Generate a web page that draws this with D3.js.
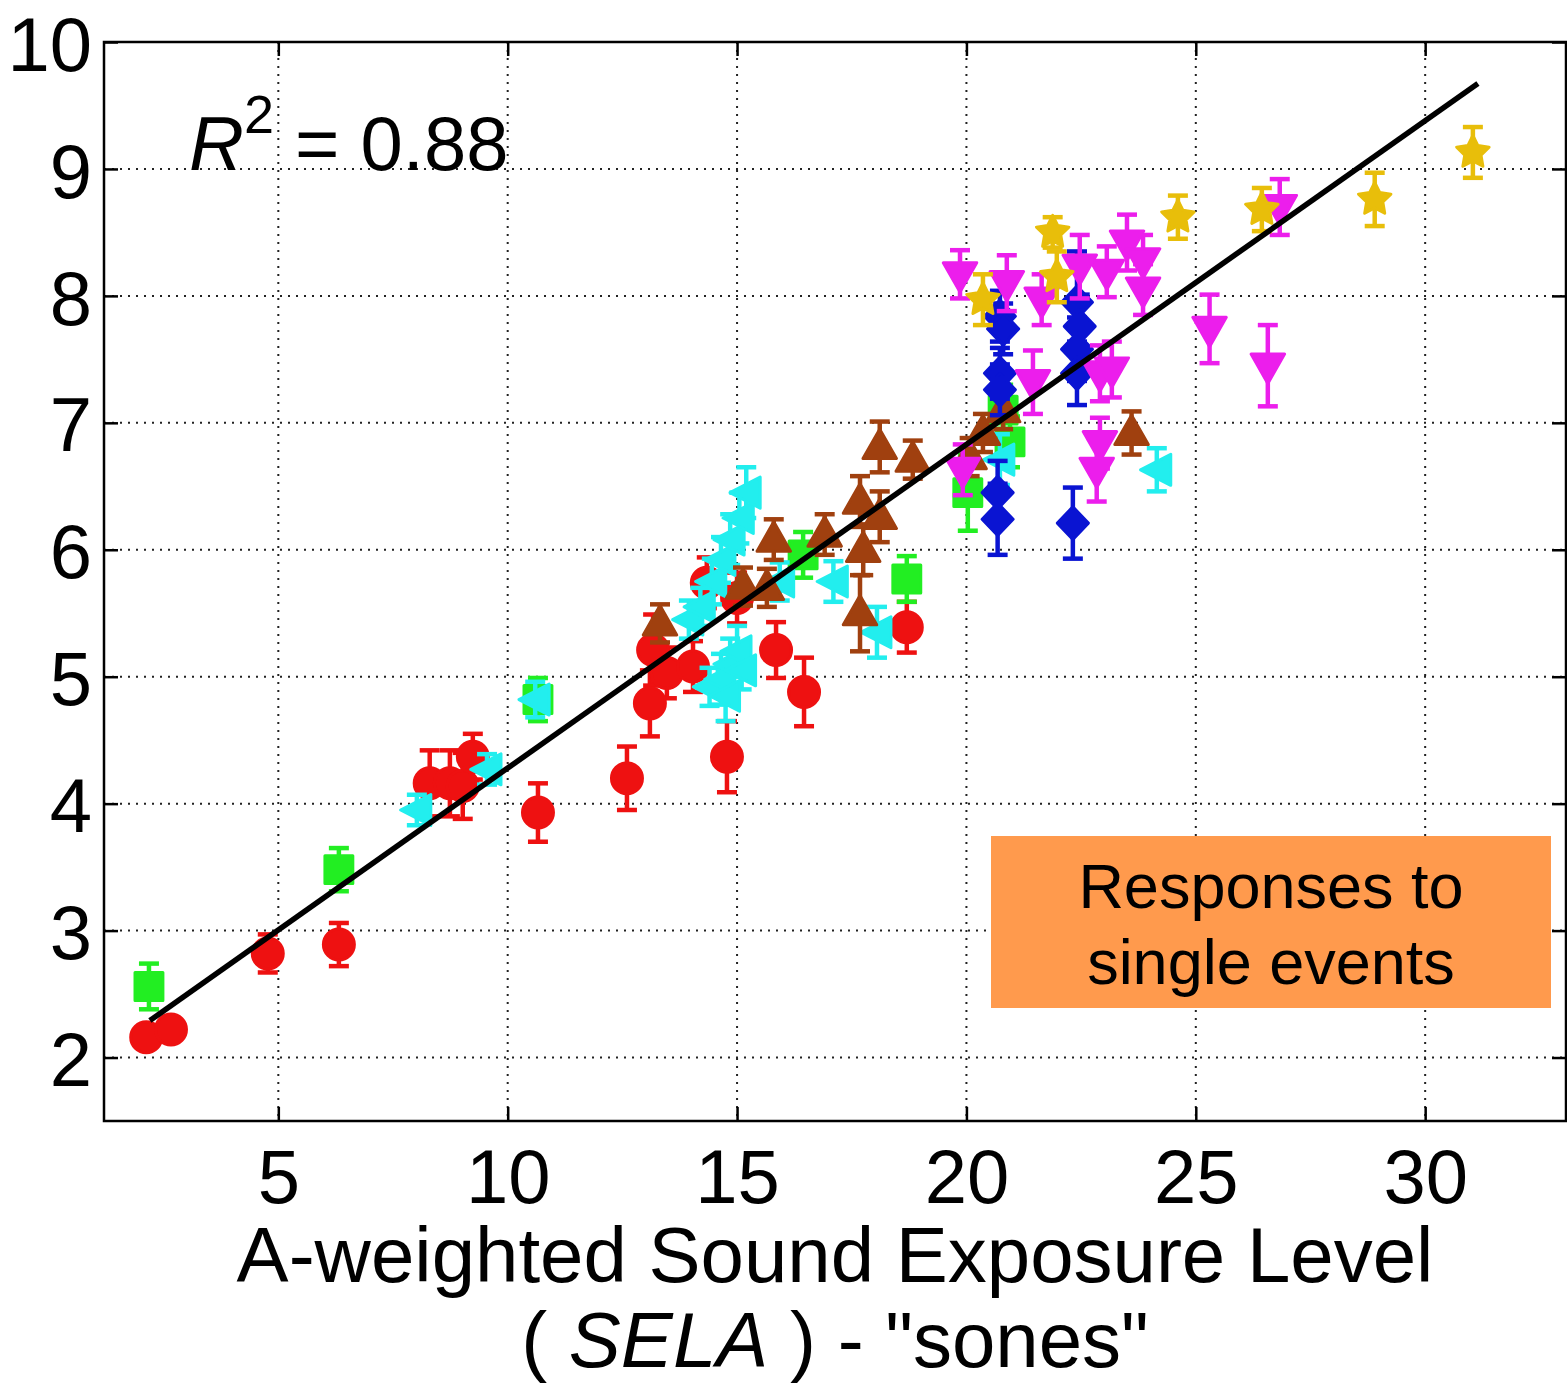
<!DOCTYPE html>
<html>
<head>
<meta charset="utf-8">
<script src="https://cdn.jsdelivr.net/npm/d3@7"></script>
<style>
  body { margin: 0; background: #fff; }
  text { font-family: "Liberation Sans", Arial, sans-serif; fill: #000; }
</style>
</head>
<body>
<div id="chart"></div>
<script>
// Tick values
const xTicks = [5, 10, 15, 20, 25, 30];
const yTicks = [2, 3, 4, 5, 6, 7, 8, 9, 10];

// Each point is [SELA sones, mean response, error half-length]
const redPts = [
  [2.12, 2.16, 0.08], [2.66, 2.22, 0.08], [4.77, 2.82, 0.15], [6.32, 2.89, 0.17],
  [8.3, 4.16, 0.26], [8.74, 4.16, 0.26], [9.02, 4.14, 0.26], [9.24, 4.37, 0.18],
  [10.66, 3.93, 0.23], [12.6, 4.2, 0.25], [13.1, 4.79, 0.26], [13.17, 5.21, 0.28],
  [13.47, 5.03, 0.2], [14.04, 5.08, 0.2], [14.34, 5.74, 0.2], [14.78, 4.37, 0.28],
  [15.0, 5.62, 0.2], [15.85, 5.21, 0.22], [16.46, 4.88, 0.27], [18.7, 5.39, 0.2]
];
const greenPts = [
  [2.18, 2.56, 0.18], [6.32, 3.48, 0.17], [10.66, 4.82, 0.17], [16.44, 5.96, 0.18],
  [18.7, 5.77, 0.18], [20.03, 6.45, 0.3], [20.8, 7.1, 0.2], [20.95, 6.85, 0.2]
];
const cyanPts = [
  [8.02, 3.95, 0.12], [9.55, 4.27, 0.12], [10.6, 4.82, 0.14], [13.95, 5.45, 0.15],
  [14.2, 5.55, 0.15], [14.45, 5.75, 0.18], [14.65, 5.92, 0.18], [14.85, 6.08, 0.2],
  [15.05, 6.25, 0.2], [15.2, 6.45, 0.2], [14.4, 4.92, 0.15], [14.65, 4.98, 0.2],
  [14.85, 5.1, 0.2], [15.0, 5.2, 0.2], [14.75, 4.85, 0.2], [15.1, 5.05, 0.15],
  [15.93, 5.75, 0.15], [17.1, 5.75, 0.16], [18.05, 5.35, 0.2], [20.73, 6.71, 0.2],
  [24.15, 6.63, 0.17]
];
const brownPts = [
  [13.32, 5.42, 0.15], [15.13, 5.71, 0.15], [15.65, 5.7, 0.15], [15.8, 6.08, 0.16],
  [16.91, 6.12, 0.16], [17.68, 5.5, 0.3], [17.75, 6.0, 0.2], [17.68, 6.38, 0.2],
  [18.11, 6.26, 0.2], [18.11, 6.81, 0.2], [18.83, 6.71, 0.15], [20.07, 6.73, 0.15],
  [20.36, 6.92, 0.15], [20.8, 7.1, 0.15], [23.6, 6.92, 0.17]
];
const bluePts = [
  [20.73, 7.84, 0.2], [20.8, 7.74, 0.2], [20.73, 7.39, 0.2], [20.73, 7.26, 0.2],
  [20.68, 6.45, 0.25], [20.68, 6.24, 0.28], [22.41, 7.95, 0.4], [22.47, 7.76, 0.25],
  [22.41, 7.58, 0.25], [22.41, 7.39, 0.25], [22.32, 6.21, 0.28]
];
const magentaPts = [
  [19.86, 8.17, 0.19], [20.88, 8.1, 0.22], [21.64, 7.97, 0.2], [22.47, 8.23, 0.25],
  [23.06, 8.19, 0.2], [23.5, 8.42, 0.22], [23.85, 8.28, 0.2], [23.85, 8.05, 0.2],
  [21.45, 7.32, 0.25], [22.91, 7.39, 0.22], [23.17, 7.42, 0.22], [22.91, 6.84, 0.2],
  [22.84, 6.63, 0.25], [19.92, 6.63, 0.2], [25.3, 7.74, 0.27], [26.57, 7.45, 0.32],
  [26.83, 8.7, 0.22]
];
const goldPts = [
  [20.36, 7.97, 0.2], [21.88, 8.5, 0.12], [21.97, 8.15, 0.2], [24.61, 8.62, 0.17],
  [26.44, 8.68, 0.17], [28.9, 8.76, 0.21], [31.04, 9.13, 0.2]
];

// Linear fit
const fitX = [2.2, 31.15];
const fitSlope = 0.255;
const fitIntercept = 1.73;
const rSquared = '0.88';

const series = [
  { pts: redPts, color: '#ee1111', shape: 'circle' },
  { pts: greenPts, color: '#22ee22', shape: 'square' },
  { pts: cyanPts, color: '#22eeee', shape: 'left' },
  { pts: brownPts, color: '#a0400f', shape: 'up' },
  { pts: bluePts, color: '#0a14d2', shape: 'diamond' },
  { pts: magentaPts, color: '#ec1eec', shape: 'down' },
  { pts: goldPts, color: '#e8be0a', shape: 'star' }
];

const W = 1567, H = 1386;
const plotL = 104, plotR = 1566, plotT = 42, plotB = 1121;

const svg = d3.select('#chart')
  .append('svg')
  .attr('width', W)
  .attr('height', H);

const x = d3.scaleLinear().domain([1.2, 33.07]).range([plotL, plotR]);
const y = d3.scaleLinear().domain([1.5, 10]).range([plotB, plotT]);

// dotted grid
svg.append('g')
  .selectAll('line')
  .data(xTicks)
  .join('line')
  .attr('x1', d => x(d)).attr('x2', d => x(d))
  .attr('y1', plotT).attr('y2', plotB)
  .attr('stroke', '#222').attr('stroke-width', 2)
  .attr('stroke-dasharray', '2,6');
svg.append('g')
  .selectAll('line')
  .data(yTicks)
  .join('line')
  .attr('x1', plotL).attr('x2', plotR)
  .attr('y1', d => y(d)).attr('y2', d => y(d))
  .attr('stroke', '#222').attr('stroke-width', 2)
  .attr('stroke-dasharray', '2,6');

// axes (ticks point inward)
const fontSize = 76;
const xAxis = svg.append('g')
  .attr('transform', `translate(0,${plotB})`)
  .call(d3.axisBottom(x).tickValues(xTicks).tickSize(-14).tickPadding(28));
const yAxis = svg.append('g')
  .attr('transform', `translate(${plotL},0)`)
  .call(d3.axisLeft(y).tickValues(yTicks).tickSize(-14).tickPadding(12));
svg.append('g')
  .attr('transform', `translate(0,${plotT})`)
  .call(d3.axisTop(x).tickValues(xTicks).tickSize(-14).tickFormat(''));
svg.append('g')
  .attr('transform', `translate(${plotR},0)`)
  .call(d3.axisRight(y).tickValues(yTicks).tickSize(-14).tickFormat(''));

svg.selectAll('.domain').remove();
svg.selectAll('.tick line').attr('stroke', '#000').attr('stroke-width', 2.5);
[xAxis, yAxis].forEach(a => a.selectAll('text')
  .style('font-family', '"Liberation Sans", Arial, sans-serif')
  .style('font-size', fontSize + 'px')
  .attr('fill', '#000'));
yAxis.selectAll('text').attr('dy', '0.37em');

// frame
svg.append('rect')
  .attr('x', plotL).attr('y', plotT)
  .attr('width', plotR - plotL).attr('height', plotB - plotT)
  .attr('fill', 'none').attr('stroke', '#000').attr('stroke-width', 2.5);

// marker shapes
function shapePath(shape, r) {
  const p = d3.path();
  if (shape === 'circle') {
    p.arc(0, 0, r, 0, 2 * Math.PI);
  } else if (shape === 'square') {
    p.rect(-r * 0.9, -r * 0.9, r * 1.8, r * 1.8);
  } else if (shape === 'left') {
    p.moveTo(-r * 1.05, 0); p.lineTo(r * 0.9, -r); p.lineTo(r * 0.9, r); p.closePath();
  } else if (shape === 'up') {
    p.moveTo(0, -r * 1.15); p.lineTo(r * 1.08, r * 0.75); p.lineTo(-r * 1.08, r * 0.75); p.closePath();
  } else if (shape === 'down') {
    p.moveTo(0, r * 1.15); p.lineTo(r * 1.08, -r * 0.75); p.lineTo(-r * 1.08, -r * 0.75); p.closePath();
  } else if (shape === 'diamond') {
    p.moveTo(0, -r * 1.05); p.lineTo(r, 0); p.lineTo(0, r * 1.05); p.lineTo(-r, 0); p.closePath();
  } else if (shape === 'star') {
    for (let i = 0; i < 10; i++) {
      const a = -Math.PI / 2 + i * Math.PI / 5;
      const rr = i % 2 === 0 ? r * 1.1 : r * 0.55;
      if (i === 0) p.moveTo(rr * Math.cos(a), rr * Math.sin(a));
      else p.lineTo(rr * Math.cos(a), rr * Math.sin(a));
    }
    p.closePath();
  }
  return p.toString();
}

const capW = 10;
series.forEach(s => {
  const g = svg.append('g');
  // error bars
  const eb = g.selectAll('g.eb').data(s.pts).join('g').attr('class', 'eb');
  eb.append('line')
    .attr('x1', d => x(d[0])).attr('x2', d => x(d[0]))
    .attr('y1', d => y(d[1] - d[2])).attr('y2', d => y(d[1] + d[2]))
    .attr('stroke', s.color).attr('stroke-width', 4.5);
  eb.append('line')
    .attr('x1', d => x(d[0]) - capW).attr('x2', d => x(d[0]) + capW)
    .attr('y1', d => y(d[1] + d[2])).attr('y2', d => y(d[1] + d[2]))
    .attr('stroke', s.color).attr('stroke-width', 4.5);
  eb.append('line')
    .attr('x1', d => x(d[0]) - capW).attr('x2', d => x(d[0]) + capW)
    .attr('y1', d => y(d[1] - d[2])).attr('y2', d => y(d[1] - d[2]))
    .attr('stroke', s.color).attr('stroke-width', 4.5);
  // markers
  g.selectAll('path.m').data(s.pts).join('path')
    .attr('class', 'm')
    .attr('transform', d => `translate(${x(d[0])},${y(d[1])})`)
    .attr('d', shapePath(s.shape, 15.5))
    .attr('fill', s.color)
    .attr('stroke', s.color).attr('stroke-width', 3)
    .attr('stroke-linejoin', 'round');
});

// regression line
svg.append('line')
  .attr('x1', x(fitX[0])).attr('y1', y(fitIntercept + fitSlope * fitX[0]))
  .attr('x2', x(fitX[1])).attr('y2', y(fitIntercept + fitSlope * fitX[1]))
  .attr('stroke', '#000').attr('stroke-width', 5.5);

// R^2 label
const r2 = svg.append('text')
  .attr('x', 189).attr('y', 170)
  .style('font-size', '76px');
r2.append('tspan').attr('font-style', 'italic').text('R');
r2.append('tspan').attr('dy', -37).style('font-size', '54px').text('2');
r2.append('tspan').attr('dy', 37).text(' = ' + rSquared);

// annotation box
svg.append('rect')
  .attr('x', 991).attr('y', 836)
  .attr('width', 560).attr('height', 172)
  .attr('fill', '#ff9a4d');
svg.append('text')
  .attr('x', 1271).attr('y', 908)
  .attr('text-anchor', 'middle')
  .style('font-size', '63px')
  .text('Responses to');
svg.append('text')
  .attr('x', 1271).attr('y', 984)
  .attr('text-anchor', 'middle')
  .style('font-size', '63px')
  .text('single events');

// x label
const cx = (plotL + plotR) / 2;
svg.append('text')
  .attr('x', cx).attr('y', 1282)
  .attr('text-anchor', 'middle')
  .style('font-size', '78px')
  .text('A-weighted Sound Exposure Level');
const l2 = svg.append('text')
  .attr('x', cx).attr('y', 1367)
  .attr('text-anchor', 'middle')
  .style('font-size', '78px');
l2.append('tspan').text('( ');
l2.append('tspan').attr('font-style', 'italic').text('SELA');
l2.append('tspan').text(' ) - "sones"');
</script>
</body>
</html>
